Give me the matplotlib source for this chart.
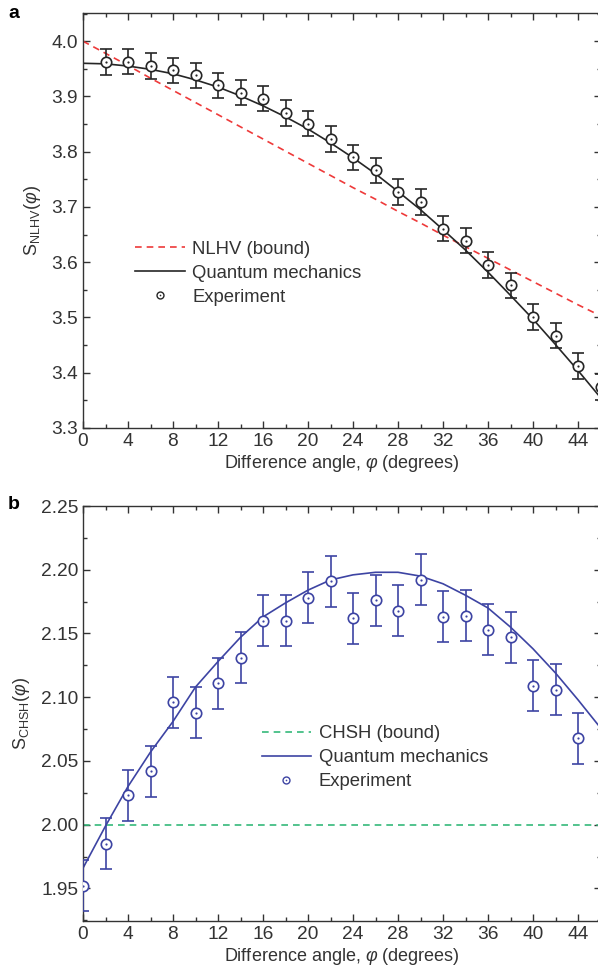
import numpy as np
import matplotlib
matplotlib.use("Agg")
import matplotlib.pyplot as plt
from matplotlib.lines import Line2D
from matplotlib.legend_handler import HandlerTuple
from matplotlib.ticker import MultipleLocator

plt.rcParams['font.family'] = ['Liberation Sans', 'DejaVu Sans']
plt.rcParams['mathtext.fontset'] = 'custom'
plt.rcParams['mathtext.rm'] = 'Liberation Sans'
plt.rcParams['mathtext.it'] = 'Liberation Sans:italic'

# ---------------- Panel a data ----------------
a_exp_x = [2, 4, 6, 8, 10, 12, 14, 16, 18, 20, 22, 24, 26, 28, 30, 32, 34, 36, 38, 40, 42, 44, 46]
a_exp_y = [3.962, 3.963, 3.955, 3.947, 3.938, 3.920, 3.907, 3.896, 3.870, 3.851, 3.823,
           3.790, 3.766, 3.727, 3.709, 3.661, 3.639, 3.595, 3.558, 3.501, 3.467, 3.412, 3.374]
a_exp_err = [0.023] * len(a_exp_x)

a_curve_x = [0, 2, 4, 6, 8, 10, 12, 14, 16, 18, 20, 22, 24, 26, 28, 30, 32, 34, 36, 38, 40, 42, 44, 46]
a_qm_y = [3.960, 3.959, 3.955, 3.949, 3.941, 3.930, 3.917, 3.901, 3.883, 3.863, 3.841, 3.816,
          3.789, 3.760, 3.728, 3.695, 3.659, 3.622, 3.582, 3.540, 3.497, 3.451, 3.404, 3.355]
a_nlhv_y = [4.000, 3.978, 3.956, 3.933, 3.911, 3.889, 3.867, 3.845, 3.823, 3.801, 3.779, 3.757,
            3.735, 3.714, 3.692, 3.671, 3.649, 3.628, 3.607, 3.586, 3.565, 3.544, 3.523, 3.503]

# ---------------- Panel b data ----------------
b_exp_x = [0, 2, 4, 6, 8, 10, 12, 14, 16, 18, 20, 22, 24, 26, 28, 30, 32, 34, 36, 38, 40, 42, 44]
b_exp_y = [1.952, 1.985, 2.023, 2.042, 2.096, 2.088, 2.111, 2.131, 2.160, 2.160, 2.178, 2.191,
           2.162, 2.176, 2.168, 2.192, 2.163, 2.164, 2.153, 2.147, 2.109, 2.106, 2.068]
b_exp_err = [0.020] * len(b_exp_x)

b_curve_x = [0, 2, 4, 6, 8, 10, 12, 14, 16, 18, 20, 22, 24, 26, 28, 30, 32, 34, 36, 38, 40, 42, 44, 46]
b_qm_y = [1.966, 1.999, 2.030, 2.057, 2.081, 2.108, 2.128, 2.147, 2.163, 2.174, 2.184, 2.192,
          2.196, 2.198, 2.198, 2.195, 2.189, 2.180, 2.170, 2.155, 2.138, 2.119, 2.098, 2.076]
b_chsh_y = [2.0] * len(b_curve_x)

x_ticks = [0, 4, 8, 12, 16, 20, 24, 28, 32, 36, 40, 44]

RED = '#ee3a3a'
BLACK = '#262626'
BLUE = '#3d44a3'
GREEN = '#35b97a'
AXC = '#333333'
FS = 13
TFS = 13.8

fig = plt.figure(figsize=(5.98, 9.73), dpi=100)
W = 517.5 / 598
ax1 = fig.add_axes([83 / 598, 1 - 428 / 973, W, 415 / 973])
ax2 = fig.add_axes([83 / 598, 1 - 921 / 973, W, 415 / 973])


def style(ax):
    for s in ax.spines.values():
        s.set_color(AXC)
        s.set_linewidth(1.0)
    ax.tick_params(which='both', direction='in', top=True, right=True, colors=AXC,
                   labelcolor='#333333', labelsize=TFS, width=1.0)
    ax.tick_params(which='major', length=5)
    ax.tick_params(which='minor', length=3)
    ax.set_xlim(0, 46)
    ax.set_xticks(x_ticks)
    ax.xaxis.set_minor_locator(MultipleLocator(2))
    ax.set_xlabel(r'Difference angle, $\varphi$ (degrees)', fontsize=FS, color='#333333', labelpad=2)


def exp_plot(ax, x, y, err, color, ms=7.5):
    ax.errorbar(x, y, yerr=err, fmt='none', ecolor=color, elinewidth=1.2, capsize=4,
                capthick=1.2, zorder=3)
    ax.plot(x, y, 'o', ms=ms, mfc='white', mec=color, mew=1.2, ls='none', zorder=4)
    ax.plot(x, y, 'o', ms=1.6, mfc=color, mec=color, mew=0, ls='none', zorder=5)


def make_legend(ax, handles, labels, anchor):
    ax.legend(handles, labels,
              handler_map={tuple: HandlerTuple(ndivide=1, pad=0)},
              loc='upper left', bbox_to_anchor=anchor, frameon=False, fontsize=13.3,
              handlelength=2.7, handletextpad=0.4, labelspacing=0.38, borderaxespad=0,
              borderpad=0, labelcolor='#333333')


# ---- Panel a ----
style(ax1)
ax1.set_ylim(3.3, 4.051)
ax1.yaxis.set_major_locator(MultipleLocator(0.1))
ax1.yaxis.set_minor_locator(MultipleLocator(0.05))
ax1.yaxis.set_major_formatter(matplotlib.ticker.FormatStrFormatter('%.1f'))
ax1.plot(a_curve_x, a_nlhv_y, ls=(0, (4, 3)), color=RED, lw=1.2, zorder=2)
ax1.plot(a_curve_x, a_qm_y, '-', color=BLACK, lw=1.2, zorder=2)
exp_plot(ax1, a_exp_x, a_exp_y, a_exp_err, BLACK)
ax1.set_ylabel(r'$\mathrm{S}_{\mathrm{NLHV}}(\varphi)$', fontsize=FS, color='#333333', labelpad=6)

h1 = Line2D([], [], ls=(0, (4, 3)), color=RED, lw=1.2)
h2 = Line2D([], [], ls='-', color=BLACK, lw=1.2)
h3a = Line2D([], [], marker='o', ms=5, mfc='white', mec=BLACK, mew=1.0, ls='none')
h3b = Line2D([], [], marker='o', ms=1.2, mfc=BLACK, mec=BLACK, mew=0, ls='none')
make_legend(ax1, [h1, h2, (h3a, h3b)], ['NLHV (bound)', 'Quantum mechanics', 'Experiment'],
            (0.10, 0.451))

# ---- Panel b ----
style(ax2)
ax2.set_ylim(1.9245, 2.25)
ax2.yaxis.set_major_locator(MultipleLocator(0.05))
ax2.yaxis.set_minor_locator(MultipleLocator(0.025))
ax2.yaxis.set_major_formatter(matplotlib.ticker.FormatStrFormatter('%.2f'))
ax2.plot(b_curve_x, b_chsh_y, ls=(0, (4, 3)), color=GREEN, lw=1.2, zorder=2)
ax2.plot(b_curve_x, b_qm_y, '-', color=BLUE, lw=1.2, zorder=2)
exp_plot(ax2, b_exp_x, b_exp_y, b_exp_err, BLUE)
ax2.set_ylabel(r'$\mathrm{S}_{\mathrm{CHSH}}(\varphi)$', fontsize=FS, color='#333333', labelpad=6)

g1 = Line2D([], [], ls=(0, (4, 3)), color=GREEN, lw=1.2)
g2 = Line2D([], [], ls='-', color=BLUE, lw=1.2)
g3a = Line2D([], [], marker='o', ms=5, mfc='white', mec=BLUE, mew=1.0, ls='none')
g3b = Line2D([], [], marker='o', ms=1.2, mfc=BLUE, mec=BLUE, mew=0, ls='none')
make_legend(ax2, [g1, g2, (g3a, g3b)], ['CHSH (bound)', 'Quantum mechanics', 'Experiment'],
            (0.345, 0.472))

fig.text(8 / 598, 1 - 14 / 973, 'a', fontsize=14, fontweight='bold', va='center', ha='left')
fig.text(8 / 598, 1 - 505 / 973, 'b', fontsize=14, fontweight='bold', va='center', ha='left')

fig.savefig('out.png', dpi=100)
